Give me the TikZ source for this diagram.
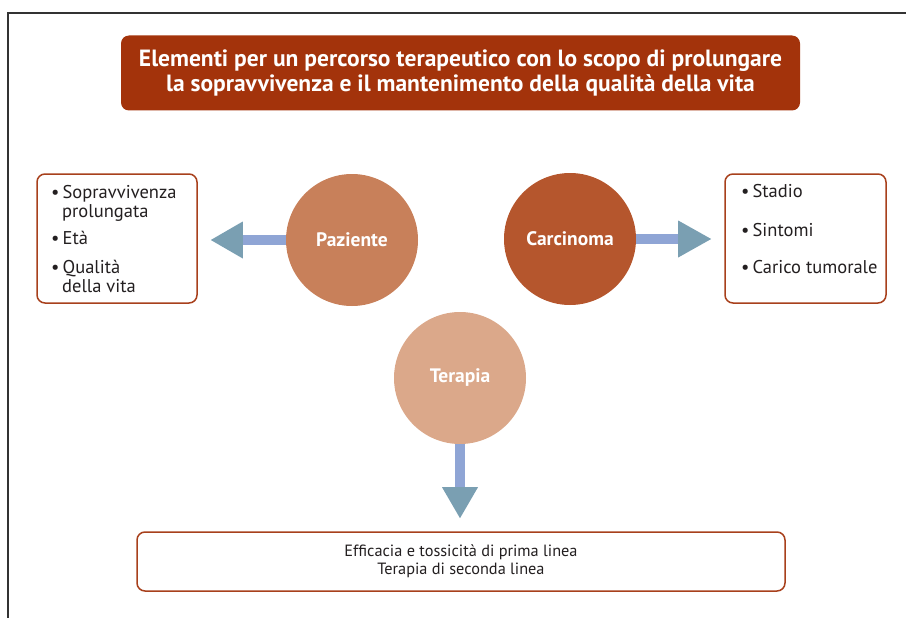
\documentclass[tikz,border=0pt]{standalone}
\usepackage{fontspec}
\setmainfont{PT Sans}
\definecolor{titlebg}{HTML}{A3330B}
\definecolor{boxline}{HTML}{A8401C}
\definecolor{cpaz}{HTML}{C8805A}
\definecolor{ccar}{HTML}{B5562D}
\definecolor{cter}{HTML}{DBA88A}
\definecolor{shaftc}{HTML}{8FA5D5}
\definecolor{headc}{HTML}{7A9FB2}
\definecolor{txt}{HTML}{231F20}
\tikzset{
  circ/.style={circle, inner sep=0pt, minimum size=132pt, text=white, font=\fontsize{19.5}{22}\selectfont\bfseries},
  infobox/.style={draw=boxline, line width=1.5pt, rounded corners=8pt, fill=white, inner sep=0pt},
  item/.style={anchor=base west, inner sep=0pt, text=txt, font=\fontsize{18.5}{21}\selectfont},
  shaft/.style={draw=shaftc, line width=10pt},
  head/.style={fill=headc},
}
\begin{document}
\begin{tikzpicture}[x=1pt,y=-1pt]
\useasboundingbox (0,0) rectangle (906,618);
% frame
\draw[line width=1.5pt, draw=black!80] (906,13) -- (8,13) -- (8,618);
% title
\node[fill=titlebg, rounded corners=8pt, minimum width=679pt, minimum height=75pt, inner sep=0pt, text=white, align=center, font=\fontsize{23.5}{25}\selectfont\bfseries] (title) at (460.5,73) {Elementi per un percorso terapeutico con lo scopo di prolungare\\la sopravvivenza e il mantenimento della qualità della vita};
% circles
\node[circ, fill=cpaz] (paz) at (352,240) {Paziente};
\node[circ, fill=ccar] (car) at (570,239) {Carcinoma};
\node[circ, fill=cter] (ter) at (460,378) {Terapia};
% boxes
\node[infobox, minimum width=160pt, minimum height=129pt] (lbox) at (117,238.5) {};
\node[infobox, minimum width=161pt, minimum height=129pt] (rbox) at (805.5,238.5) {};
\node[infobox, minimum width=648pt, minimum height=59pt] (bbox) at (461,561.5) {};
% left box items
\node[item] (l1) at (51,198) {•\,Sopravvivenza};
\node[item] (l2) at (62,217) {prolungata};
\node[item] (l3) at (51,244) {•\,Età};
\node[item] (l4) at (51,273) {•\,Qualità};
\node[item] (l5) at (62,292) {della vita};
% right box items
\node[item] (r1) at (741,197) {•\,Stadio};
\node[item] (r2) at (741,236) {•\,Sintomi};
\node[item] (r3) at (741,273) {•\,Carico tumorale};
% bottom text
\node[text=txt, align=center, inner sep=0pt, font=\fontsize{16.3}{18}\selectfont] (btxt) at (bbox.center) {Efficacia e tossicità di prima linea\\Terapia di seconda linea};
% arrows
\coordinate (lhb) at ([xshift=-43pt]paz.west);
\coordinate (ltip) at ([xshift=-75pt]paz.west);
\draw[shaft] (paz.west) -- (lhb);
\fill[head] ([yshift=-18.5pt]lhb) -- ([yshift=18.5pt]lhb) -- (ltip) -- cycle;
\coordinate (rhb) at ([xshift=42pt]car.east);
\coordinate (rtip) at ([xshift=75pt]car.east);
\draw[shaft] (car.east) -- (rhb);
\fill[head] ([yshift=-18.5pt]rhb) -- ([yshift=18.5pt]rhb) -- (rtip) -- cycle;
\coordinate (dhb) at ([yshift=-43pt]ter.south);
\coordinate (dtip) at ([yshift=-74pt]ter.south);
\draw[shaft] (ter.south) -- (dhb);
\fill[head] ([xshift=-18pt]dhb) -- ([xshift=18pt]dhb) -- (dtip) -- cycle;
\end{tikzpicture}
\end{document}
